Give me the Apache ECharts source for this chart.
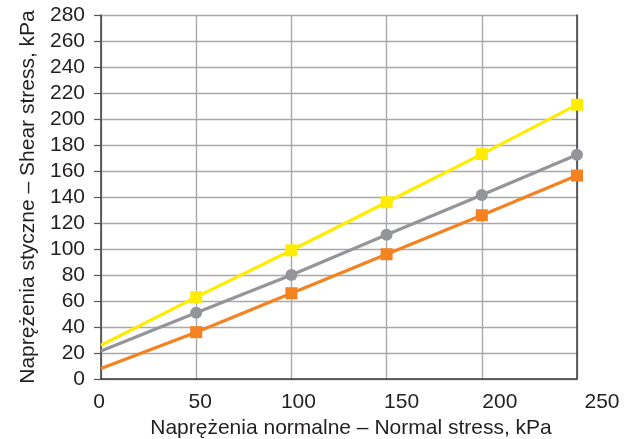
<!DOCTYPE html>
<html>
<head>
<meta charset="utf-8">
<script src="https://cdn.jsdelivr.net/npm/echarts@6/dist/echarts.min.js"></script>
<style>
  html, body { margin: 0; padding: 0; background: #fff; }
  #chart { width: 638px; height: 439px; }
</style>
</head>
<body>
<div id="chart"></div>
<script>
// Normal stress values (kPa); 0 is where each fitted line meets the shear axis
const normalStress = [0, 50, 100, 150, 200, 250];

// Shear stress (kPa) for the three test series; first value is the line intercept
const shearYellow = [26, 63, 99, 136, 173, 211];
const shearGray   = [21.5, 51, 80, 111, 141.5, 172.5];
const shearOrange = [8, 36, 66, 96, 126, 156.5];

const xTicks = { min: 0, max: 250, interval: 50 };
const yTicks = { min: 0, max: 280, interval: 20 };

// Horizontal nudge (px) of each normal-stress tick label, keyed by tick value
const xLabelNudge = { 0: -2, 50: 4, 100: 7, 150: 15, 200: 18, 250: 25 };

const FONT = '"Liberation Sans", Arial, Helvetica, sans-serif';
const TEXT = '#231f20';
const FS = 21;

function buildData(values) {
  return normalStress.map((x, i) => {
    const item = { value: [x, values[i]] };
    if (i === 0) item.symbol = 'none';
    return item;
  });
}

function makeSeries(name, values, color, symbol, size) {
  return {
    name: name,
    type: 'line',
    data: buildData(values),
    symbol: symbol,
    symbolSize: size,
    showAllSymbol: true,
    lineStyle: { color: color, width: 3.2 },
    itemStyle: { color: color },
    emphasis: { disabled: true },
    z: 3
  };
}

// rich styles that shift a centred label left or right
const xRich = {};
Object.keys(xLabelNudge).forEach(k => {
  const d = xLabelNudge[k];
  xRich['n' + k] = {
    fontFamily: FONT, fontSize: FS, color: TEXT,
    padding: d >= 0 ? [0, 0, 0, 2 * d] : [0, -2 * d, 0, 0]
  };
});

const chart = echarts.init(document.getElementById('chart'), null, { renderer: 'canvas' });

chart.setOption({
  animation: false,
  backgroundColor: '#ffffff',
  grid: {
    left: 101, right: 61, top: 15, bottom: 60,
    containLabel: false,
    outerBoundsMode: 'none'
  },
  xAxis: {
    type: 'value',
    min: xTicks.min, max: xTicks.max, interval: xTicks.interval,
    name: 'Naprężenia normalne – Normal stress, kPa',
    nameLocation: 'middle',
    nameGap: 33,
    nameTextStyle: { fontFamily: FONT, fontSize: FS, color: TEXT, padding: [0, 0, 0, 24] },
    axisLine: { show: true, lineStyle: { color: '#3a3a3a', width: 1.5 } },
    axisTick: { show: false },
    axisLabel: {
      fontFamily: FONT, fontSize: FS, color: TEXT, margin: 13,
      formatter: v => (xLabelNudge[v] !== undefined ? '{n' + v + '|' + v + '}' : String(v)),
      rich: xRich
    },
    splitLine: { show: true, lineStyle: { color: '#a7a9ac', width: 1.4 } }
  },
  yAxis: [{
    type: 'value',
    min: yTicks.min, max: yTicks.max, interval: yTicks.interval,
    name: 'Naprężenia styczne – Shear stress, kPa',
    nameLocation: 'middle',
    nameGap: 62,
    nameRotate: 90,
    nameTextStyle: { fontFamily: FONT, fontSize: FS, color: TEXT },
    axisLine: { show: true, lineStyle: { color: '#3a3a3a', width: 1.5 } },
    axisTick: { show: true, length: 7, lineStyle: { color: '#555', width: 1.2 } },
    axisLabel: { fontFamily: FONT, fontSize: FS, color: TEXT, margin: 16, padding: [4, 0, 0, 0] },
    splitLine: { show: true, lineStyle: { color: '#a7a9ac', width: 1.4 } }
  }, {
    type: 'value',
    position: 'right',
    min: yTicks.min, max: yTicks.max, interval: yTicks.interval,
    axisLine: { show: true, lineStyle: { color: '#3a3a3a', width: 1.5 } },
    axisTick: { show: false },
    axisLabel: { show: false },
    splitLine: { show: false }
  }],
  series: [
    makeSeries('orange', shearOrange, '#f58220', 'rect', 12),
    makeSeries('gray', shearGray, '#939598', 'circle', 12),
    makeSeries('yellow', shearYellow, '#ffec00', 'rect', 12)
  ]
});
</script>
</body>
</html>
